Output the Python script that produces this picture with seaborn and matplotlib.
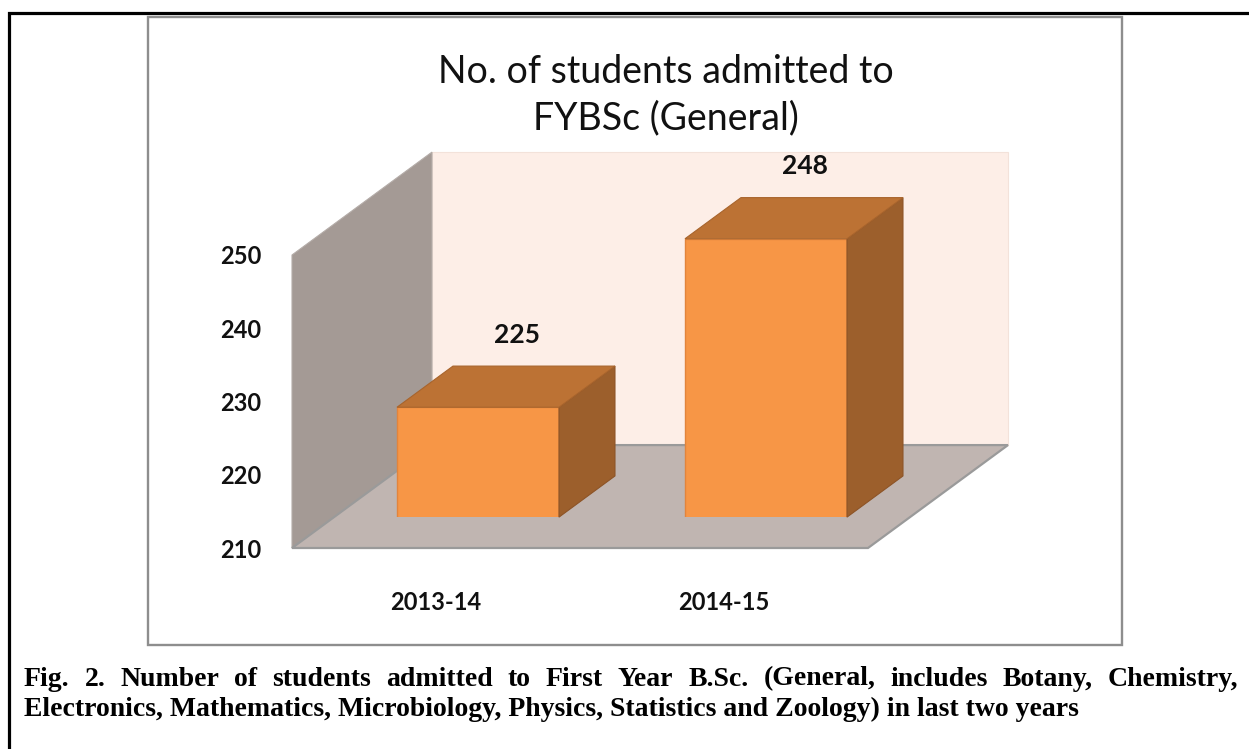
import matplotlib
matplotlib.use("Agg")
import matplotlib.pyplot as plt
from matplotlib.patches import Polygon, Rectangle
import seaborn as sns

# data
years = ["2013-14", "2014-15"]
students = [225, 248]
y_ticks = [210, 220, 230, 240, 250]
title_lines = ["No. of students admitted to", "FYBSc (General)"]
caption_1 = ("Fig. 2. Number of students admitted to First Year B.Sc. "
             "(General, includes Botany, Chemistry,")
caption_2 = ("Electronics, Mathematics, Microbiology, Physics, Statistics "
             "and Zoology) in last two years")

sns.set_style("white")
plt.rcParams["font.family"] = ["Lato", "DejaVu Sans"]

W, H = 1249, 749
fig = plt.figure(figsize=(W / 100, H / 100), dpi=100)


def px_box(x0, y0, x1, y1):
    # pixel box (origin top-left) -> figure fraction rect
    return [x0 / W, 1 - y1 / H, (x1 - x0) / W, (y1 - y0) / H]


# page frame + chart area border
bg = fig.add_axes([0, 0, 1, 1])
bg.set_xlim(0, W)
bg.set_ylim(H, 0)
bg.axis("off")
bg.plot([9, 9, W], [H, 13, 13], color="black", lw=2.3, solid_joinstyle="miter")
bg.add_patch(Rectangle((148, 17), 974, 628, facecolor="white",
                       edgecolor="#8e8e8e", lw=1.7))

# fake 3d box: depth vector in (category, value) units
KX, KY = 0.486, 14.05
BAR_D0, BAR_D1 = 0.3, 0.7
BAR_W = 0.5625
xmin, xmax = -0.5, 1.5
ymin, ymax = y_ticks[0], y_ticks[-1]

left, right, top, bottom = 292, 868, 255, 548
px_x = (right - left) / (xmax - xmin)
px_y = (bottom - top) / (ymax - ymin)

ax = fig.add_axes(px_box(left, top, right, bottom))
ax.set_facecolor("none")

back = Rectangle((xmin + KX, ymin + KY), xmax - xmin, ymax - ymin,
                 facecolor="#FDEEE7", edgecolor="#f3e2da", lw=0.8, clip_on=False)
side = Polygon([(xmin, ymin), (xmin, ymax), (xmin + KX, ymax + KY), (xmin + KX, ymin + KY)],
               facecolor="#A49A95", edgecolor="#b4aca8", lw=0.8, clip_on=False)
floor = Polygon([(xmin, ymin), (xmax, ymin), (xmax + KX, ymin + KY), (xmin + KX, ymin + KY)],
                facecolor="#C0B5B1", edgecolor="#9a9a9a", lw=1.6, clip_on=False)
for p in (back, side, floor):
    ax.add_patch(p)

ax.set_xlim(xmin, xmax)
ax.set_ylim(ymin, ymax)
ax.set_yticks(y_ticks)
ax.set_xticks([0, 1], years)
for s in ax.spines.values():
    s.set_visible(False)
ax.tick_params(axis="y", length=0, pad=22, labelsize=17, labelcolor="#111111")
ax.tick_params(axis="x", length=0, pad=31, labelsize=17, labelcolor="#111111")
for lab in ax.get_xticklabels() + ax.get_yticklabels():
    lab.set_fontweight("bold")

# bars live on a plane pushed back into the box
dx = BAR_D0 * KX * px_x
dy = BAR_D0 * KY * px_y
ax_bar = fig.add_axes(px_box(left + dx, top - dy, right + dx, bottom - dy))
sns.barplot(x=years, y=students, color="#F79646", saturation=1, width=BAR_W,
            edgecolor="#E2843C", linewidth=1, ax=ax_bar)
ax_bar.set_xlim(xmin, xmax)
ax_bar.set_ylim(ymin, ymax)
ax_bar.axis("off")

ddx = (BAR_D1 - BAR_D0) * KX
ddy = (BAR_D1 - BAR_D0) * KY
for i, v in enumerate(students):
    l, r = i - BAR_W / 2, i + BAR_W / 2
    ax_bar.add_patch(Polygon([(r, ymin), (r, v), (r + ddx, v + ddy), (r + ddx, ymin + ddy)],
                             facecolor="#9C5F2C", edgecolor="#8d5427", lw=0.8, clip_on=False))
    ax_bar.add_patch(Polygon([(l, v), (r, v), (r + ddx, v + ddy), (l + ddx, v + ddy)],
                             facecolor="#BC7234", edgecolor="#a8642c", lw=0.8, clip_on=False))
    ax_bar.text(i + ddx * 0.7, v + ddy + 4.3, str(v), ha="center", va="center",
                fontsize=19, fontweight="bold", color="#111111", clip_on=False)

# title
fig.text(666 / W, 1 - 72 / H, title_lines[0], ha="center", va="center",
         fontsize=27, color="#111111")
fig.text(666 / W, 1 - 118 / H, title_lines[1], ha="center", va="center",
         fontsize=27, color="#111111")

# caption, first line justified
cap_kw = dict(family=["Liberation Serif", "DejaVu Serif"], fontweight="bold",
              fontsize=20, color="black", va="center", ha="left")
renderer = fig.canvas.get_renderer()
words = caption_1.split()
texts = [fig.text(0, 1 - 679 / H, w, **cap_kw) for w in words]
widths = [t.get_window_extent(renderer).width for t in texts]
gap = (1238 - 24 - sum(widths)) / (len(words) - 1)
x = 24
for t, wd in zip(texts, widths):
    t.set_x(x / W)
    x += wd + gap
fig.text(24 / W, 1 - 709 / H, caption_2, **cap_kw)

fig.savefig("out.png", dpi=100)
